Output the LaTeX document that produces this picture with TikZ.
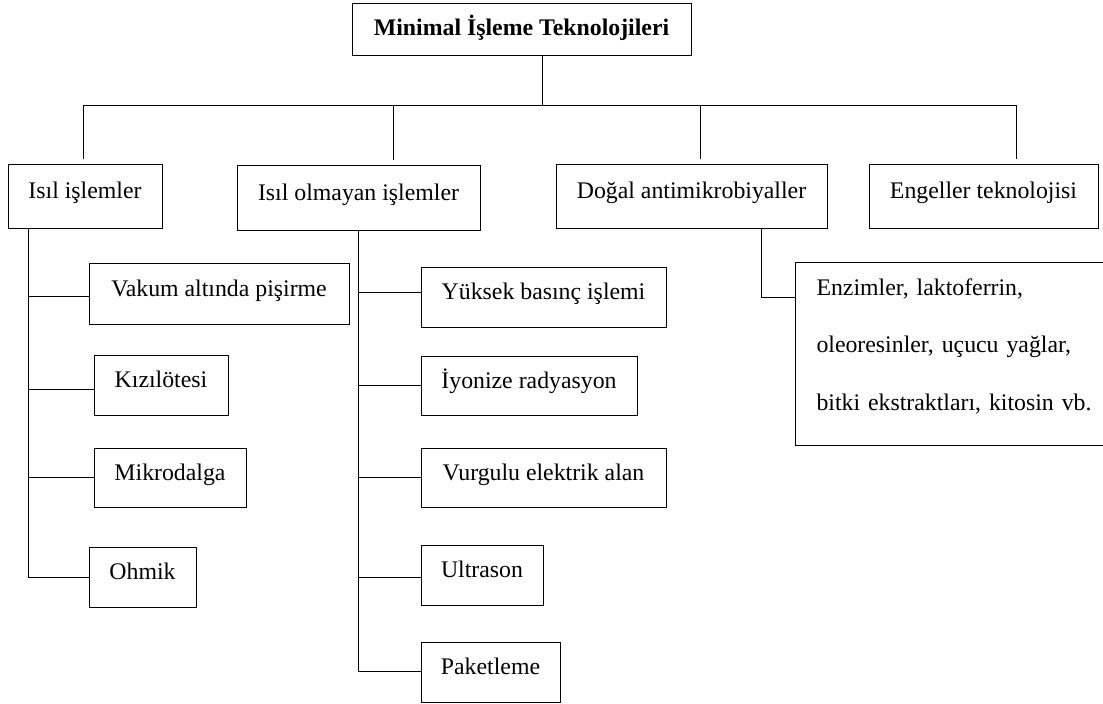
\documentclass[tikz,border=0pt]{standalone}
\usepackage{fontspec}
\setmainfont{Liberation Serif}
\newcommand\dfont{\fontsize{23.8}{28}\selectfont}
\begin{document}
\begin{tikzpicture}[x=1pt,y=-1pt,
  line width=1pt,
  box/.style={draw, line width=1pt, inner sep=0pt, text height=12pt, text depth=7pt, font=\dfont},
]
\useasboundingbox (0,0) rectangle (1103,704);
\clip (0,0) rectangle (1103,704);

% boxes
\node[box, minimum width=339, minimum height=52, text height=12pt, text depth=0pt, font=\dfont\bfseries] (title) at (521.5,29) {Minimal İşleme Teknolojileri};
\node[box, minimum width=154, minimum height=64] (isil) at (85,196) {Isıl işlemler};
\node[box, minimum width=243, minimum height=65] (olm) at (358.5,197.5) {Isıl olmayan işlemler};
\node[box, minimum width=271, minimum height=64] (dogal) at (691.5,196) {Doğal antimikrobiyaller};
\node[box, minimum width=229, minimum height=64] (engel) at (983.5,196) {Engeller teknolojisi};

\node[box, minimum width=260, minimum height=61] (vakum) at (219,293.5) {Vakum altında pişirme};
\node[box, minimum width=134, minimum height=60] (kizil) at (161,385) {Kızılötesi};
\node[box, minimum width=152, minimum height=59] (mikro) at (170,477.5) {Mikrodalga};
\node[box, minimum width=107, minimum height=60] (ohmik) at (142.5,577) {Ohmik};

\node[box, minimum width=245, minimum height=60] (yuksek) at (543.5,297) {Yüksek basınç işlemi};
\node[box, minimum width=216, minimum height=59] (iyon) at (529,385.5) {İyonize radyasyon};
\node[box, minimum width=245, minimum height=59] (vurg) at (543.5,477.5) {Vurgulu elektrik alan};
\node[box, minimum width=122, minimum height=60] (ultra) at (482,575) {Ultrason};
\node[box, minimum width=139, minimum height=60] (paket) at (490.5,672) {Paketleme};

\node[box, minimum width=315, minimum height=183] (enz) at (952.5,353.5) {};
\node[anchor=base west, inner sep=0pt, text width=300pt, align=left,
      font=\fontsize{23.8}{57.5}\selectfont] (enztext) at (816,295)
  {Enzimler, laktoferrin,\\oleoresinler, uçucu yağlar,\\bitki ekstraktları, kitosin vb.};

% top level connectors
\coordinate (bus) at (542,105);
\coordinate (bA) at (83,105);
\coordinate (bB) at (393,105);
\coordinate (bC) at (700,105);
\coordinate (bD) at (1016,105);
\draw (title.south -| bus) -- (bus);
\draw (bA) -- (bD);
\draw[shorten >=5pt] (bA) -- (bA |- isil.north);
\draw[shorten >=5pt] (bB) -- (bB |- olm.north);
\draw[shorten >=5pt] (bC) -- (bC |- dogal.north);
\draw[shorten >=5pt] (bD) -- (bD |- engel.north);

% Isil islemler spine
\coordinate (sA) at (28,0);
\path ([yshift=-2.5pt]vakum.west) coordinate (jv)
      ([yshift=-4pt]kizil.west) coordinate (jk)
      (mikro.west) coordinate (jm)
      (ohmik.west) coordinate (jo);
\draw (sA |- isil.south) -- (sA |- jo) -- (jo);
\draw (sA |- jv) -- (jv);
\draw (sA |- jk) -- (jk);
\draw (sA |- jm) -- (jm);

% Isil olmayan spine
\coordinate (sB) at (358,0);
\path ([yshift=5pt]yuksek.west) coordinate (jy)
      (iyon.west) coordinate (ji)
      (vurg.west) coordinate (jg)
      ([yshift=-2pt]ultra.west) coordinate (ju)
      ([yshift=1pt]paket.west) coordinate (jp);
\draw (sB |- olm.south) -- (sB |- jp) -- (jp);
\draw (sB |- jy) -- (jy);
\draw (sB |- ji) -- (ji);
\draw (sB |- jg) -- (jg);
\draw (sB |- ju) -- (ju);

% Dogal antimikrobiyaller
\coordinate (eJ) at (761,297);
\draw (eJ |- dogal.south) -- (eJ) -- (eJ -| enz.west);
\end{tikzpicture}
\end{document}
